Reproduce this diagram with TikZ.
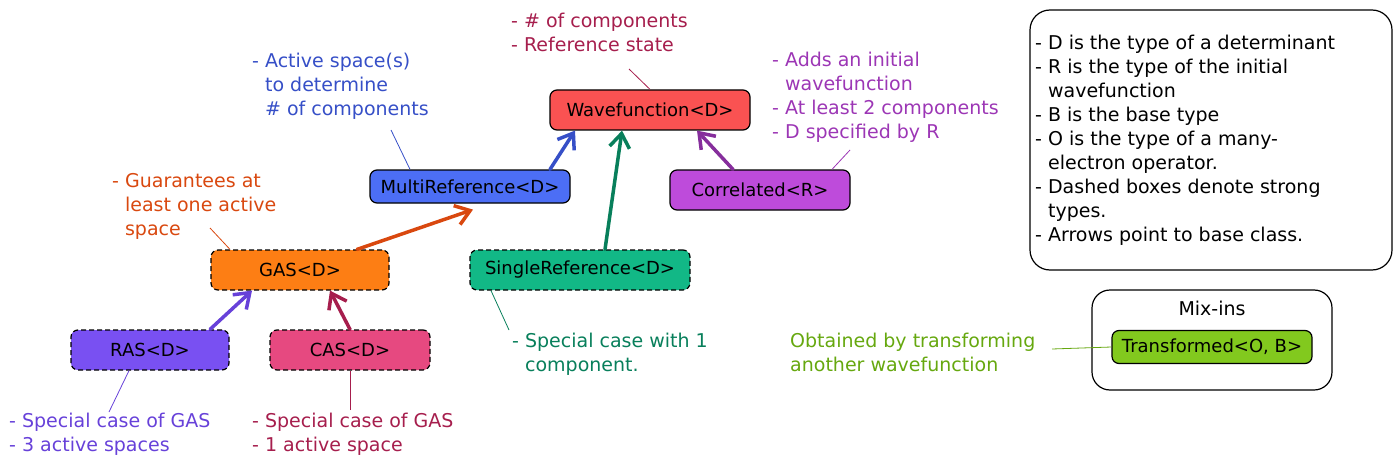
\documentclass[tikz,border=0pt]{standalone}
\usepackage{fontspec}
\setmainfont{DejaVu Sans}
\usetikzlibrary{positioning,arrows.meta,calc}

\definecolor{wfred}{HTML}{FA5252}
\definecolor{mrblue}{HTML}{4C6EF5}
\definecolor{copurple}{HTML}{BE4BDB}
\definecolor{gasorange}{HTML}{FD7E14}
\definecolor{srgreen}{HTML}{12B886}
\definecolor{rasviolet}{HTML}{7950F2}
\definecolor{caspink}{HTML}{E64980}
\definecolor{trlime}{HTML}{82C91E}
\definecolor{inkcrimson}{HTML}{A61E4D}
\definecolor{inkblue}{HTML}{364FC7}
\definecolor{inkorange}{HTML}{D9480F}
\definecolor{inkpurple}{HTML}{9C36B5}
\definecolor{inkpurpledark}{HTML}{862E9C}
\definecolor{inkgreen}{HTML}{087F5B}
\definecolor{inkviolet}{HTML}{6741D9}
\definecolor{inklime}{HTML}{66A80F}

\newcommand{\ind}{\phantom{- }}

\tikzset{
  cls/.style={draw=black,line width=1.2pt,rounded corners=7pt,inner sep=0pt,minimum height=40pt,font=\fontsize{18}{24}\selectfont},
  strong/.style={cls,dash pattern=on 5pt off 3pt},
  note/.style={align=left,anchor=north west,inner sep=0pt},
  inherit/.style={line width=3.5pt,line cap=round,-{Straight Barb[length=14pt,width=20pt]}},
  lead/.style={line width=0.8pt}
}

\begin{document}
\begin{tikzpicture}[x=1pt,y=-1pt,font=\fontsize{19}{24}\selectfont]
\useasboundingbox (0,0) rectangle (1400,468);

\node[cls,fill=wfred,minimum width=200pt] (wf) at (650,110) {Wavefunction<D>};
\node[cls,fill=mrblue,minimum width=200pt,minimum height=33pt] (mr) at (470,186.5) {MultiReference<D>};
\node[cls,fill=copurple,minimum width=180pt] (co) at (760,190) {Correlated<R>};
\node[strong,fill=gasorange,minimum width=178pt] (gas) at (300,270) {GAS<D>};
\node[strong,fill=srgreen,minimum width=220pt] (sr) at (580,270) {SingleReference<D>};
\node[strong,fill=rasviolet,minimum width=158pt] (ras) at (150,350) {RAS<D>};
\node[strong,fill=caspink,minimum width=160pt] (cas) at (350,350) {CAS<D>};

\node[draw=black,line width=1.2pt,rounded corners=20pt,minimum width=362pt,minimum height=260pt] (legend) at (1211,140) {};
\node[draw=black,line width=1.2pt,rounded corners=18pt,minimum width=240pt,minimum height=100pt] (mixins) at (1212,340) {};
\node (mixlabel) at (1212,308) {Mix-ins};
\node[cls,fill=trlime,minimum width=200pt,minimum height=33pt] (tr) at (1212,347) {Transformed<O, B>};

\draw[inherit,inkblue] ([xshift=80pt]mr.north) -- ([xshift=-75pt]wf.south);
\draw[inherit,inkgreen] ([xshift=25pt]sr.north) -- ([xshift=-28pt]wf.south);
\draw[inherit,inkpurpledark] ([xshift=-27pt]co.north) -- ([xshift=47pt]wf.south);
\draw[inherit,inkorange] ([xshift=57pt]gas.north) -- ([xshift=3pt,yshift=-6pt]mr.south);
\draw[inherit,inkviolet] ([xshift=60pt]ras.north) -- ([xshift=-48pt]gas.south);
\draw[inherit,inkcrimson] (cas.north) -- ([xshift=30pt]gas.south);

\node[note,text=inkcrimson] (wfnote) at (511,13) {- \# of components\\- Reference state};
\node[note,text=inkblue] (mrnote) at (252,53) {- Active space(s)\\\ind to determine\\\ind\# of components};
\node[note,text=inkorange] (gasnote) at (112,173) {- Guarantees at\\\ind least one active\\\ind space};
\node[note,text=inkpurple] (conote) at (772,52) {- Adds an initial\\\ind wavefunction\\- At least 2 components\\- D specified by R};
\node[note,text=inkgreen] (srnote) at (512,333) {- Special case with 1\\\ind component.};
\node[note,text=inkviolet] (rasnote) at (9,413) {- Special case of GAS\\- 3 active spaces};
\node[note,text=inkcrimson] (casnote) at (252,413) {- Special case of GAS\\- 1 active space};
\node[note,text=inklime] (trnote) at (790,333) {Obtained by transforming\\another wavefunction};
\node[note] (legendtext) at (1035,35) {- D is the type of a determinant\\- R is the type of the initial\\\ind wavefunction\\- B is the base type\\- O is the type of a many-\\\ind electron operator.\\- Dashed boxes denote strong\\\ind types.\\- Arrows point to base class.};

\coordinate (wflead) at (629,69);
\coordinate (mrlead) at (391,130);
\coordinate (gaslead) at (210,228);
\coordinate (colead) at (850,150);
\coordinate (srlead) at (509,330);
\coordinate (raslead) at (109,412);
\coordinate (caslead) at (350,410);
\coordinate (trlead) at (1052,349);
\draw[lead,inkcrimson] (wflead) -- (wf.north);
\draw[lead,inkblue] (mrlead) -- ([xshift=-60pt]mr.north);
\draw[lead,inkorange] (gaslead) -- ([xshift=-70pt]gas.north);
\draw[lead,inkpurple] (colead) -- ([xshift=72pt]co.north);
\draw[lead,inkgreen] (srlead) -- ([xshift=-89pt]sr.south);
\draw[lead,inkviolet] (raslead) -- ([xshift=-21pt]ras.south);
\draw[lead,inkcrimson] (caslead) -- (cas.south);
\draw[lead,inklime] (trlead) -- (tr.west);

\end{tikzpicture}
\end{document}
